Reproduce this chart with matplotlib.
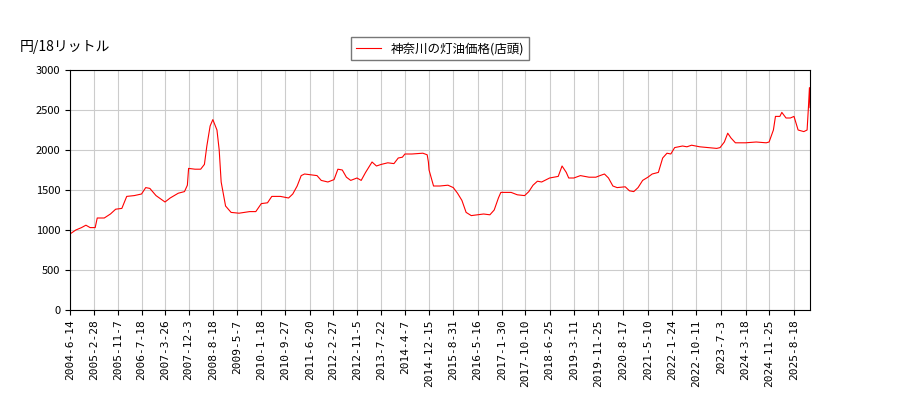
import pandas as pd
import matplotlib
matplotlib.use('Agg')
import matplotlib.pyplot as plt

plt.rcParams['font.family'] = ['Noto Sans CJK JP', 'DejaVu Sans']

# 価格データ(目視で読み取り)
dates = [
    '2004-06-14', '2004-08-15', '2004-10-15', '2004-12-01', '2005-01-15', '2005-03-10',
    '2005-04-01', '2005-06-15', '2005-08-20', '2005-10-15', '2005-12-20', '2006-02-10',
    '2006-05-01', '2006-07-18', '2006-09-01', '2006-10-15', '2006-12-20', '2007-03-26',
    '2007-05-20', '2007-08-15', '2007-10-20', '2007-11-20', '2007-12-03', '2008-02-10',
    '2008-04-10', '2008-05-20', '2008-06-15', '2008-07-20', '2008-08-18', '2008-10-01',
    '2008-10-25', '2008-11-15', '2009-01-01', '2009-03-01', '2009-05-25', '2009-09-15',
    '2009-11-20', '2010-01-18', '2010-03-25', '2010-05-10', '2010-08-10', '2010-11-05',
    '2010-12-20', '2011-02-05', '2011-03-20', '2011-04-25', '2011-09-05', '2011-10-20',
    '2011-12-30', '2012-03-05', '2012-04-15', '2012-06-01', '2012-07-15', '2012-08-30',
    '2012-11-05', '2012-12-20', '2013-02-05', '2013-04-15', '2013-06-01', '2013-07-22',
    '2013-09-30', '2013-12-05', '2014-01-20', '2014-03-05', '2014-04-01', '2014-06-15',
    '2014-10-10', '2014-11-25', '2014-12-08', '2014-12-15', '2015-02-01', '2015-04-10',
    '2015-07-05', '2015-08-31', '2015-10-15', '2015-12-01', '2016-01-15', '2016-03-10',
    '2016-05-16', '2016-07-20', '2016-09-25', '2016-11-10', '2016-12-25', '2017-01-20',
    '2017-05-10', '2017-07-15', '2017-10-01', '2017-11-15', '2017-12-30', '2018-02-15',
    '2018-04-01', '2018-06-25', '2018-08-10', '2018-09-25', '2018-11-05', '2018-12-20',
    '2019-01-15', '2019-03-11', '2019-05-20', '2019-08-20', '2019-11-01', '2019-12-15',
    '2020-02-01', '2020-03-15', '2020-05-01', '2020-06-15', '2020-09-10', '2020-10-25',
    '2020-12-10', '2021-01-25', '2021-03-15', '2021-05-10', '2021-06-25', '2021-08-30',
    '2021-10-15', '2021-11-30', '2022-01-10', '2022-02-20', '2022-05-15', '2022-07-01',
    '2022-08-20', '2022-11-15', '2023-02-15', '2023-05-15', '2023-06-20', '2023-08-05',
    '2023-09-10', '2023-10-15', '2023-12-01', '2024-03-18', '2024-07-10', '2024-10-25',
    '2024-11-25', '2025-01-10', '2025-02-01', '2025-03-20', '2025-04-10', '2025-05-25',
    '2025-07-10', '2025-08-18', '2025-10-01', '2025-12-01', '2026-01-05', '2026-01-20',
    '2026-01-30', '2026-02-05',
]
prices = [
    950, 1000, 1030, 1060, 1030, 1030,
    1150, 1150, 1200, 1260, 1270, 1420,
    1430, 1450, 1530, 1520, 1430, 1350,
    1400, 1460, 1480, 1560, 1770, 1760,
    1760, 1820, 2050, 2300, 2380, 2250,
    2000, 1600, 1300, 1220, 1210, 1230,
    1230, 1330, 1340, 1420, 1420, 1400,
    1450, 1550, 1680, 1700, 1680, 1620,
    1600, 1630, 1760, 1750, 1660, 1620,
    1650, 1620, 1720, 1850, 1800, 1820,
    1840, 1830, 1900, 1910, 1950, 1950,
    1960, 1940, 1850, 1750, 1550, 1550,
    1560, 1530, 1460, 1370, 1220, 1180,
    1190, 1200, 1190, 1250, 1400, 1470,
    1470, 1440, 1430, 1480, 1560, 1610,
    1600, 1650, 1660, 1670, 1800, 1720,
    1650, 1650, 1680, 1660, 1660, 1680,
    1700, 1650, 1550, 1530, 1540, 1490,
    1480, 1530, 1620, 1660, 1700, 1720,
    1900, 1960, 1950, 2030, 2050, 2040,
    2060, 2040, 2030, 2020, 2030, 2100,
    2210, 2150, 2090, 2090, 2100, 2090,
    2100, 2250, 2420, 2420, 2470, 2400,
    2400, 2420, 2250, 2230, 2250, 2550,
    2780, 2530,
]
tick_labels = [
    '2004-6-14', '2005-2-28', '2005-11-7', '2006-7-18', '2007-3-26', '2007-12-3',
    '2008-8-18', '2009-5-7', '2010-1-18', '2010-9-27', '2011-6-20', '2012-2-27',
    '2012-11-5', '2013-7-22', '2014-4-7', '2014-12-15', '2015-8-31', '2016-5-16',
    '2017-1-30', '2017-10-10', '2018-6-25', '2019-3-11', '2019-11-25', '2020-8-17',
    '2021-5-10', '2022-1-24', '2022-10-11', '2023-7-3', '2024-3-18', '2024-11-25',
    '2025-8-18',
]

x = pd.to_datetime(dates)
ticks = pd.to_datetime(tick_labels)

fig = plt.figure(figsize=(9, 4), dpi=100)
ax = fig.add_axes([70/900, 90/400, 740/900, 240/400])
ax.plot(x, prices, color='red', linewidth=0.8, label='神奈川の灯油価格(店頭)')
ax.set_xlim(x[0], x[-1])
ax.set_ylim(0, 3000)
ax.set_yticks(range(0, 3001, 500))
ax.set_xticks(ticks)
ax.set_xticklabels(tick_labels, rotation=90, family='DejaVu Sans Mono', fontsize=8)
ax.tick_params(axis='y', labelsize=8)
ax.grid(True, color='#cccccc', linewidth=0.8)
fig.text(20/900, 1 - 47/400, '円/18リットル', fontsize=10, va='center')
ax.legend(loc='lower center', bbox_to_anchor=(0.5, 1.04), fontsize=9,
          fancybox=False, edgecolor='#555555', borderaxespad=0)

fig.savefig('out.png')
